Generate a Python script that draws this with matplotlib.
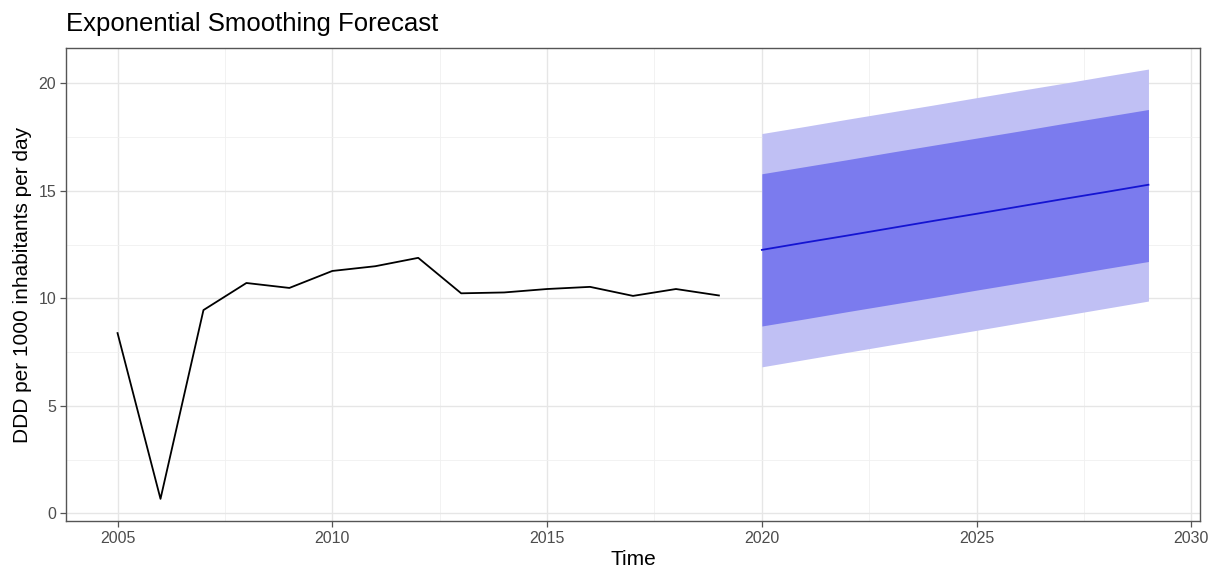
import numpy as np
import matplotlib.pyplot as plt
from matplotlib.ticker import MultipleLocator

# ==== data ====
years = np.arange(2005, 2020)
ddd = [8.39, 0.68, 9.46, 10.72, 10.49, 11.28, 11.50, 11.89,
       10.24, 10.28, 10.44, 10.54, 10.12, 10.44, 10.14]

fc_years = np.arange(2020, 2030)
fc_mean = [12.26, 12.60, 12.93, 13.27, 13.61, 13.94, 14.28, 14.62, 14.95, 15.29]
lo80 = [8.72, 9.05, 9.39, 9.72, 10.05, 10.39, 10.72, 11.05, 11.39, 11.72]
hi80 = [15.80, 16.13, 16.46, 16.80, 17.13, 17.46, 17.79, 18.13, 18.46, 18.79]
lo95 = [6.82, 7.16, 7.50, 7.84, 8.18, 8.52, 8.86, 9.20, 9.54, 9.88]
hi95 = [17.67, 18.00, 18.34, 18.67, 19.00, 19.34, 19.67, 20.00, 20.34, 20.67]

# ==== style ====
plt.rcParams['font.family'] = ['Liberation Sans', 'DejaVu Sans']
grey = "#4d4d4d"

fig = plt.figure(figsize=(12.21, 5.72), dpi=100)
ax = fig.add_axes([66 / 1221, 1 - 521 / 572, (1200 - 66) / 1221, (521 - 48) / 572])

ax.fill_between(fc_years, lo95, hi95, color="#c0c0f4", lw=0, zorder=2)
ax.fill_between(fc_years, lo80, hi80, color="#7b7bee", lw=0, zorder=3)
ax.plot(fc_years, fc_mean, color="#1414d2", lw=1.3, zorder=4)
ax.plot(years, ddd, color="black", lw=1.3, zorder=4)

ax.set_xlim(2003.8, 2030.2)
ax.set_ylim(-0.35, 21.65)
ax.xaxis.set_major_locator(MultipleLocator(5))
ax.xaxis.set_minor_locator(MultipleLocator(2.5))
ax.yaxis.set_major_locator(MultipleLocator(5))
ax.yaxis.set_minor_locator(MultipleLocator(2.5))

ax.grid(which="major", color="#e6e6e6", lw=1.0, zorder=0)
ax.grid(which="minor", color="#f0f0f0", lw=0.6, zorder=0)
ax.set_axisbelow(True)

for s in ax.spines.values():
    s.set_color("#555555")
    s.set_linewidth(1.0)

ax.tick_params(which="major", length=4, width=0.9, color="#555555",
               labelcolor=grey, labelsize=11.5, pad=3)
ax.tick_params(which="minor", length=0)

ax.set_xlabel("Time", fontsize=15, color="black", labelpad=3)
ax.set_ylabel("DDD per 1000 inhabitants per day", fontsize=15, color="black", labelpad=5)
fig.text(66 / 1221, 1 - 24 / 572, "Exponential Smoothing Forecast",
         fontsize=18.5, ha="left", va="center")

plt.savefig("out.png", dpi=100)
